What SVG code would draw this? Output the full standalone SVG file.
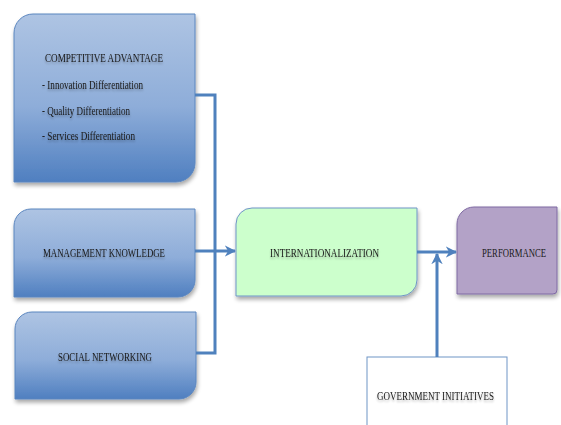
<svg xmlns="http://www.w3.org/2000/svg" width="561" height="425" viewBox="0 0 561 425">
<defs>
<linearGradient id="blueGrad" x1="0" y1="0" x2="0" y2="1">
<stop offset="0" stop-color="#aec4e3"/>
<stop offset="0.55" stop-color="#8eadd9"/>
<stop offset="1" stop-color="#4f7fc0"/>
</linearGradient>
<filter id="shadow" x="-10%" y="-10%" width="130%" height="130%">
<feGaussianBlur in="SourceAlpha" stdDeviation="2"/>
<feOffset dx="1" dy="3" result="b"/>
<feComponentTransfer><feFuncA type="linear" slope="0.35"/></feComponentTransfer>
<feMerge><feMergeNode/><feMergeNode in="SourceGraphic"/></feMerge>
</filter>
<filter id="tshadow" x="-5%" y="-30%" width="110%" height="180%">
<feGaussianBlur in="SourceAlpha" stdDeviation="1.2"/>
<feOffset dx="0" dy="1.5"/>
<feComponentTransfer><feFuncA type="linear" slope="0.3"/></feComponentTransfer>
<feMerge><feMergeNode/><feMergeNode in="SourceGraphic"/></feMerge>
</filter>
<marker id="arrow" viewBox="0 0 10 10" refX="9" refY="5" markerWidth="3.8" markerHeight="3.8" orient="auto" markerUnits="strokeWidth">
<path d="M0,0 L10,5 L0,10 L3,5 Z" fill="#4f81bd"/>
</marker>
</defs>
<style>
.blue{fill:url(#blueGrad);stroke:#5b86bf;stroke-width:1}
.t{font-family:"Liberation Serif","Times New Roman",serif;font-size:12px;fill:#1a1a1a}
.conn{fill:none;stroke:#4f81bd;stroke-width:3}
</style>
<rect width="561" height="425" fill="#ffffff"/>

<g id="competitive-advantage">
<path class="blue" filter="url(#shadow)" d="M33,14 H195 V163 A19,19 0 0 1 176,182 H14 V33 A19,19 0 0 1 33,14 Z"/>
<g filter="url(#tshadow)">
<text class="t" x="45" y="62" textLength="118" lengthAdjust="spacingAndGlyphs">COMPETITIVE ADVANTAGE</text>
<text class="t" x="42" y="89" textLength="101" lengthAdjust="spacingAndGlyphs">- Innovation  Differentiation</text>
<text class="t" x="42" y="115" textLength="88" lengthAdjust="spacingAndGlyphs">- Quality Differentiation</text>
<text class="t" x="42" y="140" textLength="93" lengthAdjust="spacingAndGlyphs">- Services Differentiation</text>
</g>
</g>

<g id="management-knowledge">
<path class="blue" filter="url(#shadow)" d="M31,209 H195 V280 A17,17 0 0 1 178,297 H14 V226 A17,17 0 0 1 31,209 Z"/>
<text class="t" filter="url(#tshadow)" x="43" y="257" textLength="122" lengthAdjust="spacingAndGlyphs">MANAGEMENT KNOWLEDGE</text>
</g>

<g id="social-networking">
<path class="blue" filter="url(#shadow)" d="M32,312 H196 V382 A17,17 0 0 1 179,399 H15 V329 A17,17 0 0 1 32,312 Z"/>
<text class="t" filter="url(#tshadow)" x="58" y="361" textLength="94" lengthAdjust="spacingAndGlyphs">SOCIAL NETWORKING</text>
</g>

<g id="internationalization">
<path filter="url(#shadow)" d="M252,208 H417 V280 A16,16 0 0 1 401,296 H236 V224 A16,16 0 0 1 252,208 Z" fill="#ccffcc" stroke="#6f95c6" stroke-width="1"/>
<text class="t" filter="url(#tshadow)" x="270" y="257" textLength="109" lengthAdjust="spacingAndGlyphs">INTERNATIONALIZATION</text>
</g>

<g id="performance">
<path filter="url(#shadow)" d="M474,207 H557 V290 A4,4 0 0 1 553,294 H457 V224 A17,17 0 0 1 474,207 Z" fill="#b3a2c7" stroke="#7f6aa3" stroke-width="1"/>
<text class="t" x="514" y="257" text-anchor="middle" font-size="10.5" textLength="64" lengthAdjust="spacingAndGlyphs">PERFORMANCE</text>
</g>

<g id="government-initiatives">
<rect x="367" y="357" width="140" height="80" fill="#ffffff" stroke="#6f95c6" stroke-width="1"/>
<text class="t" filter="url(#tshadow)" x="377" y="400" textLength="117" lengthAdjust="spacingAndGlyphs">GOVERNMENT INITIATIVES</text>
</g>

<g id="connectors">
<path class="conn" d="M195,95 H215 V353 H196"/>
<path class="conn" d="M195,251 H235" marker-end="url(#arrow)"/>
<path class="conn" d="M417,252 H456" marker-end="url(#arrow)"/>
<path class="conn" d="M437,357 V254" marker-end="url(#arrow)"/>
</g>
</svg>
